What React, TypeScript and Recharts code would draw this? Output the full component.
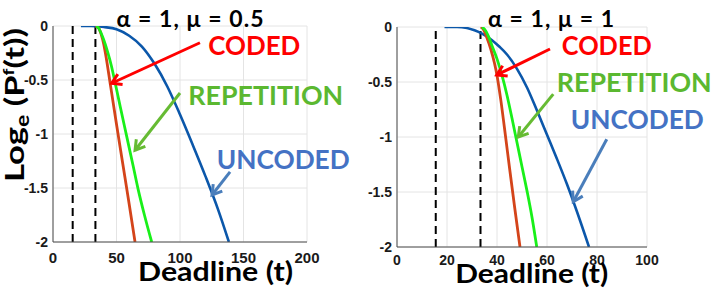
import React from "react";
import {
  LineChart,
  Line,
  XAxis,
  YAxis,
  CartesianGrid,
  ReferenceLine,
  ReferenceDot,
} from "recharts";

// tick labels
const leftXTicks = [0, 50, 100, 150, 200];
const rightXTicks = [0, 20, 40, 60, 80, 100];
const yTicks = [-2, -1.5, -1, -0.5, 0];
const deadlineMarks = [15.5, 33.4];

// alpha = 1, mu = 0.5
const leftUncodedT = [22, 30, 40, 50, 60, 70, 80, 90, 100, 110, 120, 130, 138.5];
const leftUncodedLog = [0, 0, -0.01, -0.03, -0.09, -0.19, -0.35, -0.56, -0.82, -1.1, -1.39, -1.7, -2];
const leftCodedT = [33.5, 36, 38, 40, 42, 45, 50, 55, 60, 64.6];
const leftCodedLog = [0, -0.02, -0.08, -0.17, -0.3, -0.53, -0.91, -1.28, -1.65, -2];
const leftRepT = [34, 36, 38, 40, 43, 46, 49, 53, 58, 63, 67, 72, 77.7];
const leftRepLog = [0, -0.02, -0.07, -0.13, -0.24, -0.37, -0.53, -0.75, -1.02, -1.29, -1.51, -1.75, -2];

// alpha = 1, mu = 1
const rightUncodedT = [19, 24, 28, 31, 34, 38, 41, 44, 48, 52, 56, 60, 64, 68, 72, 76.8];
const rightUncodedLog = [0, 0, -0.01, -0.03, -0.06, -0.12, -0.18, -0.25, -0.38, -0.55, -0.76, -0.98, -1.2, -1.43, -1.68, -2];
const rightCodedT = [33.5, 34.5, 36, 37.5, 39, 40, 41.5, 43, 45, 47, 49.2];
const rightCodedLog = [0, -0.02, -0.1, -0.2, -0.33, -0.44, -0.66, -0.92, -1.28, -1.63, -2];
const rightRepT = [34, 35, 36.5, 38, 40, 42, 44, 46, 48, 50, 52, 54, 55.9];
const rightRepLog = [0, -0.02, -0.08, -0.17, -0.29, -0.44, -0.62, -0.83, -1.05, -1.27, -1.49, -1.73, -2];

const zip = (t: number[], v: number[]) => t.map((x, i) => ({ x, y: v[i] }));

const BLUE = "#0b57aa";
const RED = "#d4441a";
const GREEN = "#19f019";

const labelFont = "Lato, 'Liberation Sans', Arial, sans-serif";
const tickFont = "'Liberation Sans', Arial, sans-serif";

type Note = { text: string; color: string; at: [number, number]; width: number };
type Arrow = { color: string; from: [number, number]; to: [number, number] };

const leftNotes: Note[] = [
  { text: "CODED", color: "#ff0000", at: [122.3, -0.27], width: 92 },
  { text: "REPETITION", color: "#5bb830", at: [106.5, -0.73], width: 155 },
  { text: "UNCODED", color: "#4472c4", at: [128.9, -1.32], width: 133 },
];
const leftArrows: Arrow[] = [
  { color: "#ff0000", from: [115.7, -0.155], to: [46.2, -0.53] },
  { color: "#66bb33", from: [100, -0.62], to: [64.6, -1.15] },
  { color: "#4a7ebb", from: [139.4, -1.35], to: [125.2, -1.565] },
];
const rightNotes: Note[] = [
  { text: "CODED", color: "#ff0000", at: [65.9, -0.255], width: 90 },
  { text: "REPETITION", color: "#5bb830", at: [63.9, -0.594], width: 155 },
  { text: "UNCODED", color: "#4472c4", at: [69.5, -0.93], width: 133 },
];
const rightArrows: Arrow[] = [
  { color: "#ff0000", from: [61.2, -0.2], to: [39.9, -0.436] },
  { color: "#66bb33", from: [62.5, -0.61], to: [48.5, -1.0] },
  { color: "#4a7ebb", from: [83.9, -1.02], to: [70.5, -1.588] },
];

const arrowShape = (color: string) => (props: any) => {
  const { x1, y1, x2, y2 } = props;
  const ang = Math.atan2(y2 - y1, x2 - x1);
  const len = 11;
  const a1 = ang - 0.55;
  const a2 = ang + 0.55;
  const pts = `${x2 - len * Math.cos(a1)},${y2 - len * Math.sin(a1)} ${x2},${y2} ${x2 - len * Math.cos(a2)},${y2 - len * Math.sin(a2)}`;
  return (
    <g>
      <line x1={x1} y1={y1} x2={x2} y2={y2} stroke={color} strokeWidth={3} />
      <polyline points={pts} fill="none" stroke={color} strokeWidth={3} strokeLinejoin="miter" />
    </g>
  );
};

const noteShape = (n: Note) => (props: any) => (
  <text
    x={props.cx}
    y={props.cy}
    fill={n.color}
    fontFamily={labelFont}
    fontWeight="bold"
    fontSize={27}
    textLength={n.width}
    lengthAdjust="spacingAndGlyphs"
  >
    {n.text}
  </text>
);

interface PanelProps {
  width: number;
  height: number;
  margin: { top: number; right: number; bottom: number; left: number };
  yWidth: number;
  xHeight: number;
  xMax: number;
  xTicks: number[];
  xFont: number;
  xTickMargin: number;
  uncoded: { x: number; y: number }[];
  coded: { x: number; y: number }[];
  rep: { x: number; y: number }[];
  notes: Note[];
  arrows: Arrow[];
}

function Panel(p: PanelProps) {
  return (
    <LineChart width={p.width} height={p.height} margin={p.margin}>
      <CartesianGrid stroke="#e4e4e4" strokeWidth={1} />
      <XAxis
        type="number"
        dataKey="x"
        domain={[0, p.xMax]}
        ticks={p.xTicks}
        allowDataOverflow
        height={p.xHeight}
        tickLine={false}
        tickSize={6}
        tickMargin={p.xTickMargin}
        axisLine={{ stroke: "#4d4d4d" }}
        tick={{ fill: "#1a1a1a", fontSize: p.xFont, fontWeight: "bold", fontFamily: tickFont }}
      />
      <YAxis
        type="number"
        domain={[-2, 0]}
        ticks={yTicks}
        allowDataOverflow
        width={p.yWidth}
        tickLine={false}
        tickSize={3}
        tickMargin={2}
        axisLine={{ stroke: "#4d4d4d" }}
        tick={{ fill: "#1a1a1a", fontSize: 14, fontWeight: "bold", fontFamily: tickFont }}
      />
      {deadlineMarks.map((d) => (
        <ReferenceLine key={d} x={d} stroke="#000" strokeWidth={2} strokeDasharray="8 5" />
      ))}
      <Line data={p.uncoded} dataKey="y" type="monotone" stroke={BLUE} strokeWidth={2.6} dot={false} isAnimationActive={false} />
      <Line data={p.coded} dataKey="y" type="monotone" stroke={RED} strokeWidth={2.8} dot={false} isAnimationActive={false} />
      <Line data={p.rep} dataKey="y" type="monotone" stroke={GREEN} strokeWidth={2.8} dot={false} isAnimationActive={false} />
      {p.arrows.map((a, i) => (
        <ReferenceLine
          key={"a" + i}
          segment={[
            { x: a.from[0], y: a.from[1] },
            { x: a.to[0], y: a.to[1] },
          ]}
          ifOverflow="visible"
          shape={arrowShape(a.color)}
        />
      ))}
      {p.notes.map((n, i) => (
        <ReferenceDot key={"n" + i} x={n.at[0]} y={n.at[1]} r={1} ifOverflow="visible" shape={noteShape(n)} />
      ))}
    </LineChart>
  );
}

export default function App() {
  return (
    <div
      style={{
        position: "absolute",
        left: 0,
        top: 0,
        width: 714,
        height: 292,
        background: "#fff",
        overflow: "hidden",
      }}
    >
      <div style={{ position: "absolute", left: 0, top: 0 }}>
        <Panel
          width={360}
          height={292}
          margin={{ top: 26, right: 53, bottom: 20, left: 8 }}
          yWidth={45}
          xHeight={30}
          xMax={200}
          xTicks={leftXTicks}
          xFont={15}
          xTickMargin={4}
          uncoded={zip(leftUncodedT, leftUncodedLog)}
          coded={zip(leftCodedT, leftCodedLog)}
          rep={zip(leftRepT, leftRepLog)}
          notes={leftNotes}
          arrows={leftArrows}
        />
      </div>
      <div style={{ position: "absolute", left: 360, top: 0 }}>
        <Panel
          width={354}
          height={292}
          margin={{ top: 27, right: 67, bottom: 20, left: 7 }}
          yWidth={30}
          xHeight={25}
          xMax={100}
          xTicks={rightXTicks}
          xFont={14}
          xTickMargin={2}
          uncoded={zip(rightUncodedT, rightUncodedLog)}
          coded={zip(rightCodedT, rightCodedLog)}
          rep={zip(rightRepT, rightRepLog)}
          notes={rightNotes}
          arrows={rightArrows}
        />
      </div>
      <svg
        width={714}
        height={292}
        style={{ position: "absolute", left: 0, top: 0, pointerEvents: "none" }}
        fontFamily={labelFont}
        fontWeight="bold"
        fill="#000"
      >
        <text x={190} y={27} textAnchor="middle" fontSize={23} textLength={147} lengthAdjust="spacing">
          α = 1, μ = 0.5
        </text>
        <text x={551} y={27} textAnchor="middle" fontSize={23} textLength={126} lengthAdjust="spacing">
          α = 1, μ = 1
        </text>
        <text x={215.5} y={281} textAnchor="middle" fontSize={27} textLength={155} lengthAdjust="spacingAndGlyphs">
          Deadline (t)
        </text>
        <text x={531.7} y={283} textAnchor="middle" fontSize={27} textLength={153} lengthAdjust="spacingAndGlyphs">
          Deadline (t)
        </text>
        <text transform="translate(24,105) rotate(-90)" textAnchor="middle" fontSize={27} textLength={154} lengthAdjust="spacingAndGlyphs">
          Log
          <tspan fontSize={18} dy={5}>e</tspan>
          <tspan fontSize={27} dy={-5}> (P</tspan>
          <tspan fontSize={15} dy={-10}>f</tspan>
          <tspan fontSize={27} dy={10}>(t))</tspan>
        </text>
      </svg>
    </div>
  );
}
